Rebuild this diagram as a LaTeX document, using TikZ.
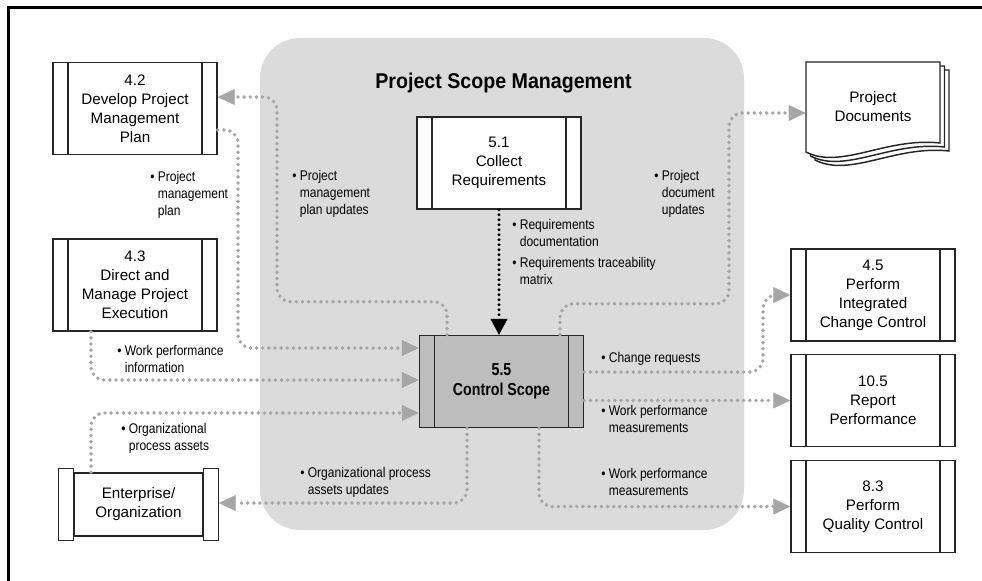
\documentclass[tikz,border=0pt]{standalone}
\usepackage{fontspec}
\setmainfont{Liberation Sans}
\newfontfamily\condfont[FakeStretch=0.86]{Liberation Sans}
\newfontfamily\ctrlfam[FakeStretch=0.82]{Liberation Sans}
\newfontfamily\headfam[FakeStretch=0.92]{Liberation Sans}
\usetikzlibrary{arrows.meta,positioning}
\newcommand{\bul}{\textbullet\ }
\newcommand{\bulsp}{\hphantom{\textbullet\ }}

\begin{document}
\begin{tikzpicture}[
    x=0.75pt, y=-0.75pt,
    font={\fontsize{11.4}{14.2}\selectfont},
    boxline/.style={draw=black!85, line width=1.1pt},
    proc/.style={boxline, fill=white, minimum width=123pt, minimum height=69pt,
      align=center, inner sep=2pt,
      path picture={
        \draw[boxline] ([xshift=11.25pt]path picture bounding box.north west)
          -- ([xshift=11.25pt]path picture bounding box.south west);
        \draw[boxline] ([xshift=-11.25pt]path picture bounding box.north east)
          -- ([xshift=-11.25pt]path picture bounding box.south east);}},
    entbox/.style={boxline, fill=white, minimum width=96.75pt,
      minimum height=47.25pt, align=center, inner sep=2pt},
    scopebg/.style={fill=black!14, rounded corners=30pt,
      minimum width=363pt, minimum height=369pt},
    lbl/.style={font={\condfont\fontsize{10.5}{12.75}\selectfont},
      align=left, anchor=north west, inner sep=0pt},
    flow/.style={draw=black!35, line width=2.9pt, line cap=round,
      dash pattern=on 0pt off 4.6pt, rounded corners=10pt,
      -{Triangle[length=12.75pt, width=12pt, line width=0.4pt]}},
    blkflow/.style={draw=black, line width=2.4pt, line cap=round,
      dash pattern=on 0pt off 3.75pt,
      -{Triangle[length=12pt, width=12.75pt, line width=0.4pt]}}
  ]
  \useasboundingbox (0,0) rectangle (982,581);
  \draw[line width=2.25pt] (8,581) -- (8,8) -- (982,8);
  %---- SCOPE AREA ----
  \node[scopebg] (scope) at (502,284) {};
  \node[font={\headfam\bfseries\fontsize{16}{19}\selectfont}] (title) at (503.5,83)
    {Project Scope Management};
  \node[proc] (colreq) at (499,163) {5.1\\Collect\\Requirements};
  \node[proc, fill=black!26, font={\ctrlfam\bfseries\fontsize{13}{14.5}\selectfont}]
    (ctrl) at (501.5,381.5) {5.5\\Control Scope};
  %---- LEFT SIDE ----
  \node[proc] (pmp) at (135,108.5) {4.2\\Develop Project\\Management\\Plan};
  \node[proc] (dme) at (135,285) {4.3\\Direct and\\Manage Project\\Execution};
  \node[entbox] (ent) at (138.5,504.5) {Enterprise/\\Organization};
  \draw[boxline, fill=white] ([xshift=-11.25pt, yshift=3pt]ent.north west)
    rectangle ([yshift=-3pt]ent.south west);
  \draw[boxline, fill=white] ([yshift=3pt]ent.north east)
    rectangle ([xshift=11.25pt, yshift=-3pt]ent.south east);
  %---- RIGHT SIDE ----
  \foreach \k in {2,1,0}
    \draw[boxline, fill=white, shift={(806+4.5*\k, 62+4*\k)}]
      (0,0) -- (134,0) -- (134,81) .. controls (80,75) and (35,108) .. (0,90) -- cycle;
  \node[minimum width=100.5pt, minimum height=67.5pt, align=center]
    (docs) at (873,107) {Project\\Documents};
  \node[proc] (icc) at (873,295) {4.5\\Perform\\Integrated\\Change Control};
  \node[proc, below=9pt of icc] (rperf) {10.5\\Report\\Performance};
  \node[proc, below=9.5pt of rperf] (pqc) {8.3\\Perform\\Quality Control};
  %---- CONNECTORS ----
  \draw[flow] ([xshift=-40.9pt]ctrl.north) -- ++(0,-33) -| (277,97)
    -- ([yshift=8.6pt]pmp.east);
  \draw[flow] ([yshift=-16.1pt]pmp.east) -| (238,348) -- ([yshift=25.1pt]ctrl.west);
  \draw[flow] ([xshift=-33pt]dme.south) |- ([yshift=1.1pt]ctrl.west);
  \draw[flow] ([xshift=-35.6pt]ent.north) |- ([yshift=-23.6pt]ctrl.west);
  \draw[flow] ([xshift=-25.9pt]ctrl.south) |- ([xshift=11.25pt, yshift=1.1pt]ent.east);
  \draw[flow] ([xshift=28.1pt]ctrl.south) |- (pqc.west);
  \draw[flow] ([yshift=7.1pt]ctrl.east) -| (763,295) -- (icc.west);
  \draw[flow] (ctrl.east |- rperf.west) -- (rperf.west);
  \draw[flow] ([xshift=43.9pt]ctrl.north) -- ++(0,-31) -| (729,113)
    -- ([yshift=-4.5pt]docs.west);
  \draw[blkflow] (colreq.south) -- (colreq.south |- ctrl.north);
  %---- LABELS ----
  \node[lbl] (lpmp) at (150,171.5) {\bul Project\\\bulsp management\\\bulsp plan};
  \node[lbl] (lpmpu) at (292,170.5) {\bul Project\\\bulsp management\\\bulsp plan updates};
  \node[lbl] (lreq) at (512,219.5) {\bul Requirements\\\bulsp documentation\\[2.5pt]%
    \bul Requirements traceability\\\bulsp matrix};
  \node[lbl] (lpdu) at (654,170.5) {\bul Project\\\bulsp document\\\bulsp updates};
  \node[lbl] (lwpi) at (117,345.5) {\bul Work performance\\\bulsp information};
  \node[lbl] (lopa) at (121,423.5) {\bul Organizational\\\bulsp process assets};
  \node[lbl] (lopau) at (300,467.5) {\bul Organizational process\\\bulsp assets updates};
  \node[lbl] (lchg) at (601,352.5) {\bul Change requests};
  \node[lbl] (lwpm) at (601,405.5) {\bul Work performance\\\bulsp measurements};
  \node[lbl] (lwpmq) at (601,468.5) {\bul Work performance\\\bulsp measurements};
\end{tikzpicture}
\end{document}
